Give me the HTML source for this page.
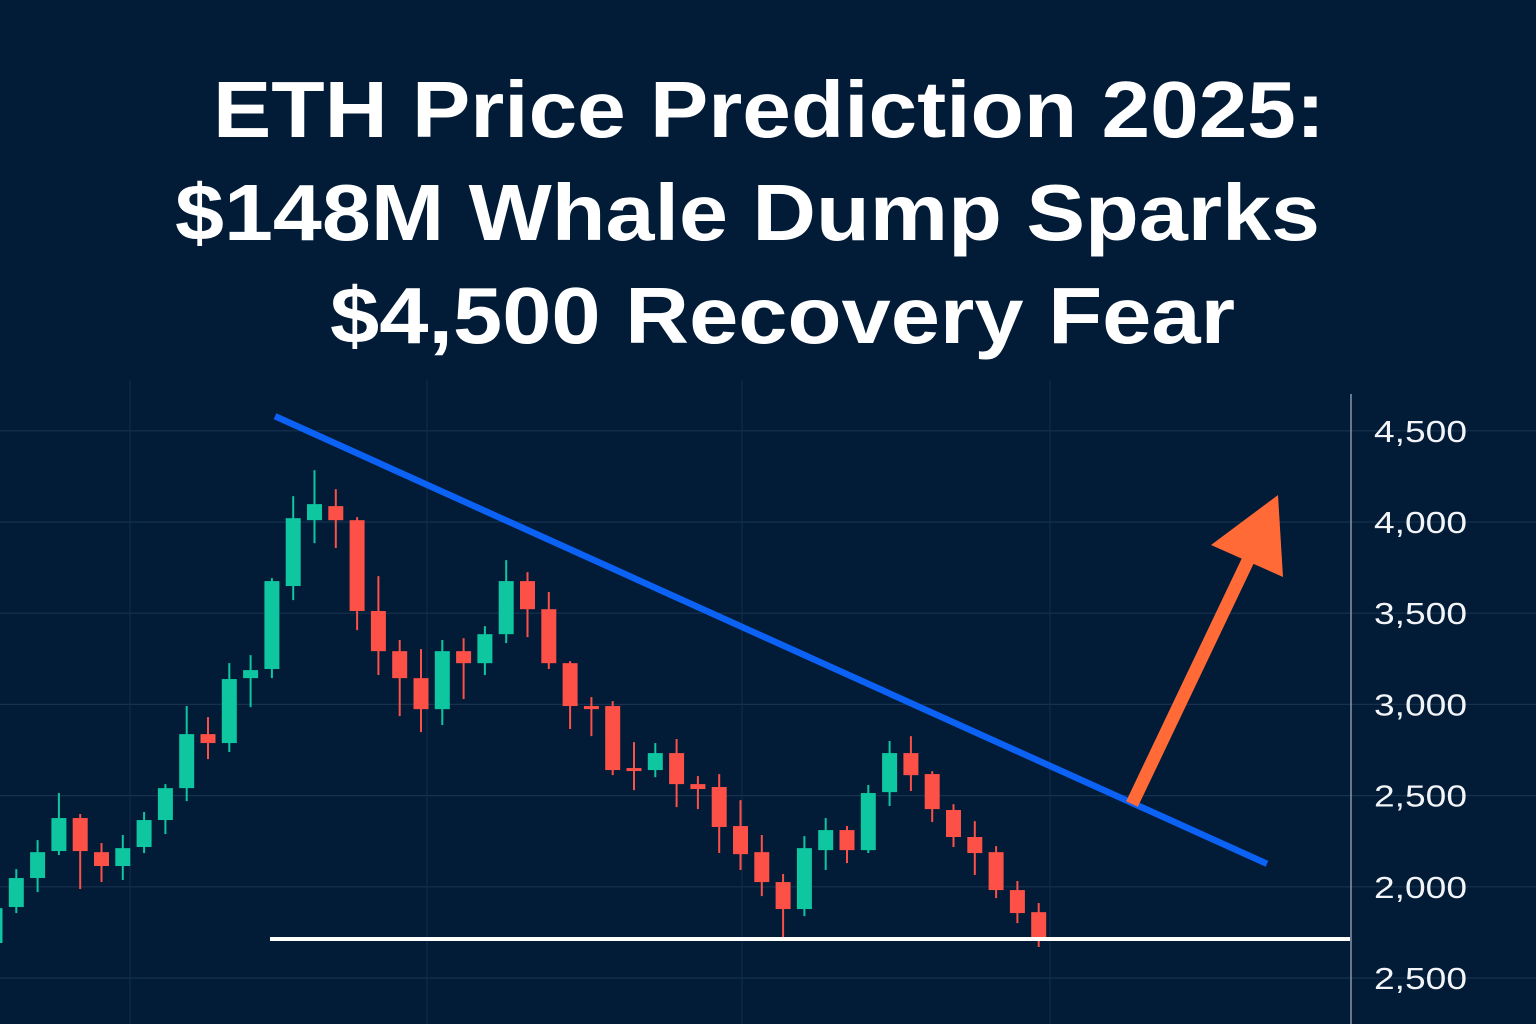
<!DOCTYPE html>
<html><head><meta charset="utf-8"><style>
html,body{margin:0;padding:0;background:#021b37;}
svg{display:block;}
</style></head><body>
<svg id="chart" width="1536" height="1024" viewBox="0 0 1536 1024" xmlns="http://www.w3.org/2000/svg">
<rect x="0" y="0" width="1536" height="1024" fill="#021b37"/>
<g font-family="Liberation Sans, sans-serif" font-weight="bold" fill="#ffffff" font-size="80">
<text x="213" y="137" textLength="1112" lengthAdjust="spacingAndGlyphs">ETH Price Prediction 2025:</text>
<text x="175" y="240" textLength="1145" lengthAdjust="spacingAndGlyphs">$148M Whale Dump Sparks</text>
<text x="330" y="343" textLength="905" lengthAdjust="spacingAndGlyphs">$4,500 Recovery Fear</text>
</g>
<g id="grid"></g>
<g id="candles"></g>
<g id="overlay"></g>
<g id="axis"></g>
</svg>
<script>
const opens  = [1692,1889,2048,2196,2377,2190,2114,2218,2366,2541,2837,2788,3144,3194,3649,4010,4087,4010,3512,3292,3144,2974,3292,3226,3385,3676,3522,3226,2991,2991,2651,2640,2733,2563,2547,2333,2190,2026,1878,2201,2311,2201,2519,2733,2618,2421,2273,2190,1982,1861];
const closes = [1883,2048,2190,2377,2196,2114,2212,2366,2541,2837,2788,3139,3188,3676,4021,4098,4010,3512,3292,3144,2974,3292,3226,3385,3676,3522,3226,2991,2974,2640,2640,2733,2563,2536,2328,2179,2026,1878,2212,2311,2201,2514,2733,2612,2426,2273,2185,1982,1856,1724];
const highs  = [1900,2097,2256,2514,2399,2240,2284,2410,2563,2991,2930,3226,3270,3692,4142,4284,4180,4027,3703,3353,3303,3353,3363,3429,3791,3725,3616,3237,3040,3018,2793,2788,2810,2607,2618,2475,2284,2070,2278,2377,2333,2558,2799,2826,2634,2453,2360,2223,2032,1911];
const lows   = [1681,1856,1971,2174,1988,2026,2037,2185,2289,2470,2700,2739,2985,3144,3572,3884,3857,3407,3161,2936,2848,2887,3029,3161,3336,3369,3194,2865,2826,2612,2530,2601,2437,2426,2185,2092,1949,1719,1839,2092,2130,2185,2443,2525,2355,2218,2065,1938,1801,1670];
const tickValues = [4500,4000,3500,3000,2500,2000,1500];
const tickLabels = ["4,500","4,000","3,500","3,000","2,500","2,000","2,500"];
const trendStart = [0, 4580];
const trendEnd = [59, 2126];
const supportLevel = 1714;

const NS="http://www.w3.org/2000/svg";
function yS(p){return 978-(p-1500)*0.1824;}
function xS(i){return -5+i*21.3;}
function mk(tag,attrs,parent){const e=document.createElementNS(NS,tag);for(const k in attrs)e.setAttribute(k,attrs[k]);parent.appendChild(e);return e;}

const grid=document.getElementById('grid');
tickValues.forEach(v=>{
  const l=mk('line',{x1:0,x2:1536,y1:yS(v),y2:yS(v),stroke:'#17324f','stroke-width':1.2},grid);
  
  
});
[130,427,742,1050].forEach(x=>{
  const l=mk('line',{x1:x,x2:x,y1:380,y2:1024,stroke:'#112c4a','stroke-width':1.2},grid);
  
  
});

const cg=document.getElementById('candles');
opens.forEach((o,i)=>{
  const c=closes[i],up=c>=o,col=up?'#0ec7a0':'#fd5148';
  const x=xS(i);
  const g=mk('g',{},cg);
  
  
  const w=mk('line',{x1:x,x2:x,y1:yS(highs[i]),y2:yS(lows[i]),stroke:col,'stroke-width':2},g);
  
  
  const top=yS(Math.max(o,c)),bot=yS(Math.min(o,c));
  const b=mk('rect',{x:x-7.5,y:top,width:15,height:Math.max(3,bot-top),fill:col},g);
  
  
});

const ov=document.getElementById('overlay');
const tl=mk('line',{x1:275,y1:yS(trendStart[1]),x2:1267,y2:yS(trendEnd[1]),stroke:'#0b62f5','stroke-width':6.5},ov);


const sl=mk('line',{x1:270,x2:1350,y1:yS(supportLevel),y2:yS(supportLevel),stroke:'#ffffff','stroke-width':4},ov);


const ar=mk('g',{},ov);


const sh=mk('line',{x1:1132,y1:804,x2:1252,y2:552,stroke:'#ff6a36','stroke-width':13},ar);


const hd=mk('polygon',{points:'1278,495 1211,545 1283,577',fill:'#ff6a36'},ar);



const ax=document.getElementById('axis');
const al=mk('line',{x1:1351,x2:1351,y1:394,y2:1024,stroke:'#8a97a8','stroke-width':1.5},ax);


tickValues.forEach((v,i)=>{
  const t=mk('text',{x:1374,y:yS(v)+11,fill:'#f2f4f7','font-family':'Liberation Sans, sans-serif','font-size':31,textLength:93,lengthAdjust:'spacingAndGlyphs'},ax);
  
  
  t.textContent=tickLabels[i];
});
</script>
</body></html>
